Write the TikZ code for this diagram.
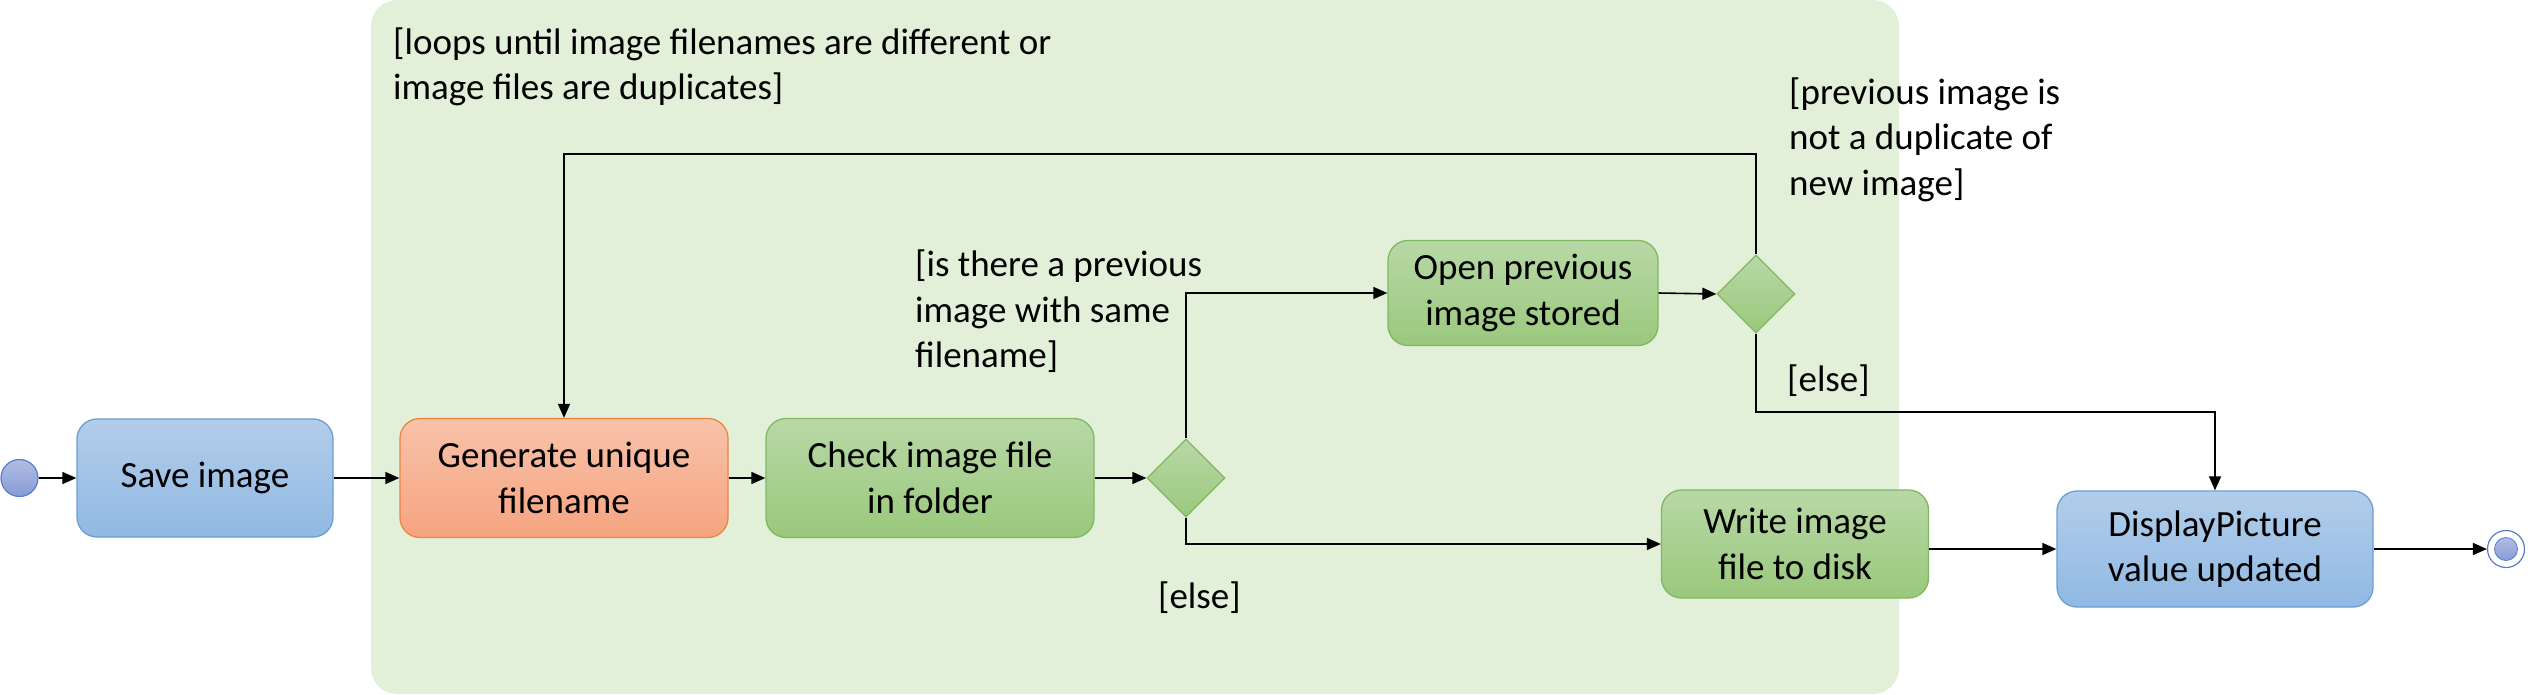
\documentclass[tikz,border=0pt]{standalone}
\usepackage{fontspec}
\setmainfont{Carlito}
\usetikzlibrary{arrows.meta,shapes.geometric,calc}
\definecolor{regionfill}{RGB}{226,239,217}
\definecolor{bluetop}{RGB}{178,205,234}
\definecolor{bluebot}{RGB}{145,185,227}
\definecolor{bluestroke}{RGB}{108,158,214}
\definecolor{orangetop}{RGB}{248,194,170}
\definecolor{orangebot}{RGB}{246,164,128}
\definecolor{orangestroke}{RGB}{238,132,66}
\definecolor{greentop}{RGB}{184,216,166}
\definecolor{greenbot}{RGB}{154,200,124}
\definecolor{greenstroke}{RGB}{128,184,98}
\definecolor{dottop}{RGB}{178,188,228}
\definecolor{dotbot}{RGB}{134,156,214}
\definecolor{dotstroke}{RGB}{90,124,205}
\newcommand\diafont{\fontsize{37}{45.5}\selectfont}
\begin{document}
\begin{tikzpicture}[x=1pt,y=-1pt,
  act/.style={rectangle, rounded corners=20pt, line width=1.3pt, align=center, inner sep=0pt, font=\diafont},
  bluebox/.style={act, draw=bluestroke, top color=bluetop, bottom color=bluebot},
  orangebox/.style={act, draw=orangestroke, top color=orangetop, bottom color=orangebot},
  greenbox/.style={act, draw=greenstroke, top color=greentop, bottom color=greenbot},
  decision/.style={diamond, aspect=1, minimum width=78pt, minimum height=78pt, inner sep=0pt, line width=1.3pt, draw=greenstroke, top color=greentop, bottom color=greenbot},
  dot/.style={circle, inner sep=0pt, line width=1.2pt, draw=dotstroke, top color=dottop, bottom color=dotbot},
  lbl/.style={inner sep=0pt, align=left, font=\diafont},
  flow/.style={draw=black, line width=1.6pt, -{Triangle[length=14pt,width=12pt]}}
]
\useasboundingbox (0,0) rectangle (2528,694);
\fill[regionfill, rounded corners=26pt] (371,0) rectangle (1899,694);

\node[dot, minimum size=37pt] (start) at (19.5,478) {};
\node[bluebox, minimum width=256pt, minimum height=118pt] (save) at (205,478) {Save image};
\node[orangebox, minimum width=328pt, minimum height=119pt] (gen) at (564,478) {Generate unique\\filename};
\node[greenbox, minimum width=328pt, minimum height=119pt] (check) at (930,478) {Check image file\\in folder};
\node[decision] (dec1) at (1186,478) {};
\node[greenbox, minimum width=270pt, minimum height=105pt] (open) at (1523,293) {Open previous\\image stored};
\node[decision] (dec2) at (1756,294) {};
\node[greenbox, minimum width=267pt, minimum height=108pt] (write) at (1795,544) {Write image\\file to disk};
\node[bluebox, minimum width=316pt, minimum height=116pt] (disp) at (2215,549) {DisplayPicture\\value updated};
\node[circle, draw=dotstroke, fill=white, line width=1.2pt, minimum size=37pt, inner sep=0pt] (end) at (2506,549) {};
\node[dot, minimum size=23pt, line width=0.8pt] (endin) at (end.center) {};

\coordinate (looptop) at (1200,154);
\coordinate (elsecorner) at (2215,412);

\draw[flow] (start) -- (save);
\draw[flow] (save) -- (gen);
\draw[flow] (gen) -- (check);
\draw[flow] (check) -- (dec1);
\draw[flow] (dec1.north) |- (open.west);
\draw[flow] (open.east) -- (dec2.west);
\draw[flow] (dec2.north) |- (looptop) -| (gen.north);
\draw[flow] (dec2.south) |- (elsecorner) -- (disp.north);
\draw[flow] (dec1.south) |- (write.west);
\draw[flow] (write.east |- disp.west) -- (disp.west);
\draw[flow] (disp.east) -- (end.west);

\node[lbl, anchor=north west] (lblloop) at (393,22) {\strut[loops until image filenames are different or\\\strut image files are duplicates]};
\node[lbl, anchor=north west] (lblis) at (915,244.5) {\strut[is there a previous\\\strut image with same\\\strut filename]};
\node[lbl, anchor=north west] (lblprev) at (1789,72) {\strut[previous image is\\\strut not a duplicate of\\\strut new image]};
\node[lbl, anchor=base west] (lblelse1) at (1158,608) {[else]};
\node[lbl, anchor=base west] (lblelse2) at (1787,391) {[else]};
\end{tikzpicture}
\end{document}
